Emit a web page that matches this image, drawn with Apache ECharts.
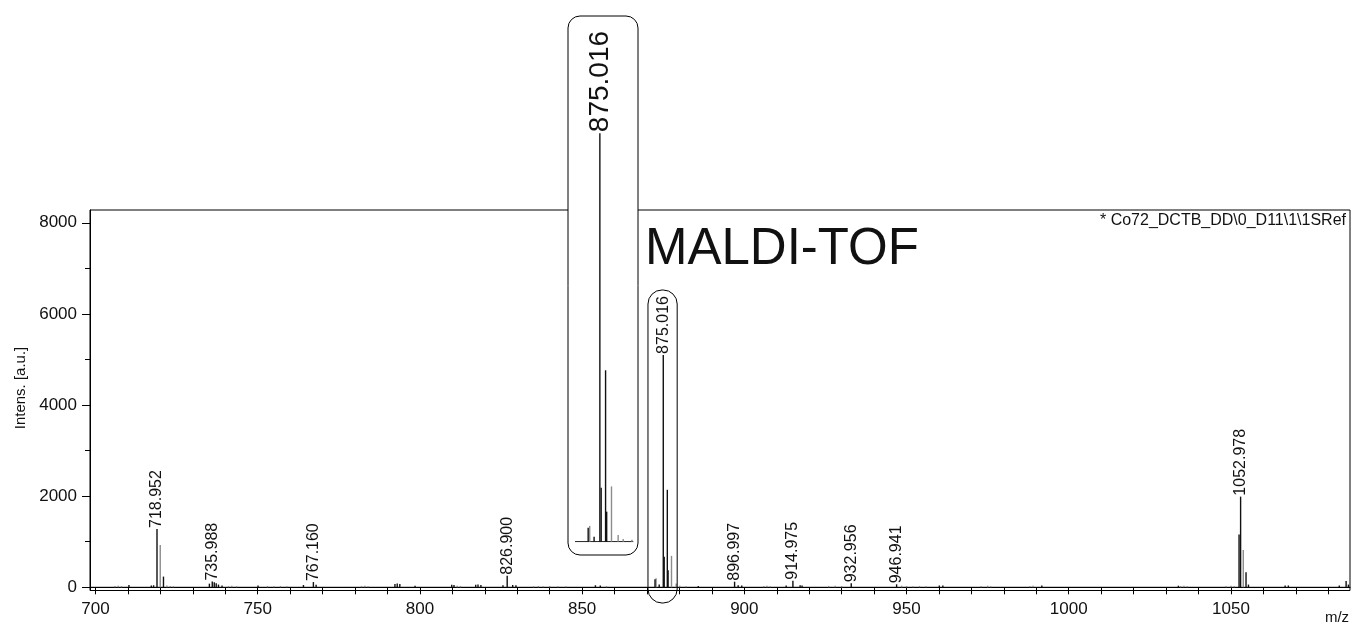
<!DOCTYPE html>
<html>
<head>
<meta charset="utf-8">
<script src="https://cdn.jsdelivr.net/npm/echarts@6/dist/echarts.min.js"></script>
<style>
  html, body { margin: 0; padding: 0; background: #fff; }
  #chart { width: 1354px; height: 625px; }
</style>
</head>
<body>
<div id="chart"></div>
<script>
// Annotated peaks: m/z and intensity [a.u.]
const labeledMz        = [718.952, 735.988, 767.160, 826.900, 875.016, 896.997, 914.975, 932.956, 946.941, 1052.978];
const labeledIntensity = [1280,    125,     115,     255,     5100,    123,     145,     88,      66,      1990];

// Other resolved peaks (dark sticks)
const blackMz = [710.3, 717.2, 717.9, 720.95, 735.1, 736.6, 737.2, 737.9, 739.0, 750.1, 764.1, 768.0,
                 792.3, 793.0, 793.8, 798.5, 809.8, 810.5, 817.2, 817.9, 818.8, 825.6, 828.6, 829.6,
                 854.1, 855.6, 872.47, 873.76, 875.3, 876.26, 876.5, 885.8, 898.1, 899.2, 912.9, 917.2,
                 917.8, 960.1, 961.2, 991.7, 1033.8, 1052.5, 1054.65, 1055.4, 1066.7, 1067.7, 1083.4,
                 1085.5, 1086.2];
const blackIntensity = [50, 40, 45, 235, 80, 110, 90, 60, 40, 40, 50, 55,
                        70, 85, 70, 35, 55, 50, 55, 60, 50, 45, 50, 45,
                        45, 40, 175, 62, 673, 2140, 375, 30, 45, 40, 40, 45,
                        40, 40, 40, 40, 35, 1160, 330, 60, 40, 40, 40,
                        140, 60];

// Isotope shoulders and low-level signal (grey sticks)
const grayMz = [706.0, 707.0, 708.0, 719.95, 722.0, 723.0, 724.0, 741.0, 742.0, 743.5, 753.0, 755.0,
                757.0, 759.0, 782.0, 783.0, 784.0, 811.5, 812.5, 835.0, 836.5, 838.0, 840.0, 842.5,
                845.0, 857.5, 872.8, 877.55, 879.0, 880.1, 882.0, 906.0, 907.0, 908.0, 926.0, 928.0,
                930.0, 948.5, 950.0, 952.0, 954.0, 956.0, 973.0, 975.0, 976.0, 988.0, 989.0, 1034.5,
                1035.5, 1036.5, 1048.5, 1050.0, 1051.0, 1053.8];
const grayIntensity = [30, 35, 25, 930, 40, 30, 25, 30, 35, 25, 30, 25,
                       30, 25, 30, 35, 25, 35, 30, 25, 30, 25, 30, 25,
                       25, 30, 197, 690, 84, 34, 25, 30, 35, 25, 30, 35,
                       30, 35, 30, 25, 30, 25, 30, 35, 25, 30, 35, 30,
                       35, 25, 30, 35, 30, 818];

// Axes
const mzRange = [698.3, 1086.7];
const intensityRange = [-70, 8280];
const xLabelValues = [700, 750, 800, 850, 900, 950, 1000, 1050];
const xTickStart = 700, xTickEnd = 1080, xTickStep = 10;
const yLabelValues = [0, 2000, 4000, 6000, 8000];
const yMinorTickValues = [1000, 3000, 5000, 7000];

// Magnified view of the molecular-ion cluster
const zoomMzRange = [869.6, 882.3];
const zoomIntensityMax = 5514;

// Frame annotation around the cluster in the full spectrum
const clusterBoxMz = [870.3, 879.3];

const FONT = "'Liberation Sans', Arial, Helvetica, sans-serif";
const TEXT = '#111';

const xTickValues = [];
for (let v = xTickStart; v <= xTickEnd; v += xTickStep) xTickValues.push(v);

function pairs(mz, inten, range) {
  const out = [];
  mz.forEach((m, i) => {
    if (!range || (m >= range[0] && m <= range[1])) out.push([m, inten[i]]);
  });
  return out;
}

function stickSeries(name, data, axisIndex, color, width, labelFont, z) {
  return {
    name: name,
    type: 'custom',
    xAxisIndex: axisIndex,
    yAxisIndex: axisIndex === 0 ? 0 : 2,
    data: data,
    encode: { x: 0, y: 1 },
    clip: false,
    z: z,
    silent: true,
    renderItem: function (params, api) {
      const m = api.value(0), h = api.value(1);
      const base = api.coord([m, 0]);
      const top = api.coord([m, h]);
      const children = [{
        type: 'line',
        shape: { x1: base[0], y1: base[1], x2: top[0], y2: top[1] },
        style: { stroke: color, lineWidth: width }
      }];
      if (labelFont) {
        children.push({
          type: 'text',
          x: top[0],
          y: top[1] - 1,
          rotation: Math.PI / 2,
          style: {
            text: m.toFixed(3),
            align: 'left',
            verticalAlign: 'middle',
            fill: TEXT,
            font: labelFont + 'px ' + FONT
          }
        });
      }
      return { type: 'group', children: children };
    }
  };
}

const chart = echarts.init(document.getElementById('chart'), null, { renderer: 'canvas' });

const option = {
  animation: false,
  backgroundColor: '#fff',
  textStyle: { fontFamily: FONT },
  grid: [
    {
      left: 90, right: 4, top: 210, bottom: 34.5,
      show: true, borderColor: '#000', borderWidth: 1, backgroundColor: 'transparent',
      containLabel: false, outerBoundsMode: 'none'
    },
    {
      left: 575, top: 100, width: 58.3, height: 441.7,
      show: false, containLabel: false, outerBoundsMode: 'none'
    }
  ],
  xAxis: [
    {
      type: 'value', gridIndex: 0, min: mzRange[0], max: mzRange[1],
      axisLine: { show: true, lineStyle: { color: '#000', width: 1 } },
      axisTick: { show: true, inside: false, length: 7, customValues: xTickValues, lineStyle: { color: '#000', width: 1 } },
      axisLabel: { show: true, customValues: xLabelValues, margin: 10, color: TEXT, fontSize: 17, fontFamily: FONT,
                   formatter: v => String(v) },
      splitLine: { show: false }
    },
    {
      type: 'value', gridIndex: 1, min: zoomMzRange[0], max: zoomMzRange[1], show: false
    }
  ],
  yAxis: [
    {
      type: 'value', gridIndex: 0, position: 'left', min: intensityRange[0], max: intensityRange[1],
      axisLine: { show: true, lineStyle: { color: '#000', width: 1 } },
      axisTick: { show: true, inside: false, length: 8, customValues: yLabelValues, lineStyle: { color: '#000', width: 1 } },
      axisLabel: { show: true, customValues: yLabelValues, margin: 13, color: TEXT, fontSize: 17, fontFamily: FONT,
                   formatter: v => String(v) },
      splitLine: { show: false }
    },
    {
      type: 'value', gridIndex: 0, position: 'left', offset: 0, min: intensityRange[0], max: intensityRange[1],
      axisLine: { show: false },
      axisTick: { show: true, inside: false, length: 5, customValues: yMinorTickValues, lineStyle: { color: '#000', width: 1 } },
      axisLabel: { show: false },
      splitLine: { show: false }
    },
    {
      type: 'value', gridIndex: 1, min: 0, max: zoomIntensityMax, show: false
    }
  ],
  series: [
    // spectrum baselines
    {
      type: 'line', xAxisIndex: 0, yAxisIndex: 0, z: 3, silent: true, symbol: 'none',
      data: [[mzRange[0], 0], [mzRange[1], 0]],
      lineStyle: { color: '#000', width: 1 }
    },
    {
      type: 'line', xAxisIndex: 1, yAxisIndex: 2, z: 20, silent: true, symbol: 'none',
      data: [[zoomMzRange[0], 0], [zoomMzRange[1], 0]],
      lineStyle: { color: '#000', width: 1 }
    },
    // full spectrum
    stickSeries('grey', pairs(grayMz, grayIntensity), 0, '#8c8c8c', 1.4, null, 4),
    stickSeries('peaks', pairs(blackMz, blackIntensity), 0, '#111', 1.4, null, 5),
    stickSeries('annotated', pairs(labeledMz, labeledIntensity), 0, '#111', 1.4, 16, 6),
    // magnified cluster
    stickSeries('grey zoom', pairs(grayMz, grayIntensity, zoomMzRange), 1, '#8c8c8c', 1.4, null, 21),
    stickSeries('peaks zoom', pairs(blackMz, blackIntensity, zoomMzRange), 1, '#111', 1.4, null, 22),
    stickSeries('annotated zoom', pairs(labeledMz, labeledIntensity, zoomMzRange), 1, '#111', 1.4, 28, 23)
  ]
};

chart.setOption(option);

// Rounded frames and free text
const boxLeft = chart.convertToPixel({ xAxisIndex: 0 }, clusterBoxMz[0]);
const boxRight = chart.convertToPixel({ xAxisIndex: 0 }, clusterBoxMz[1]);

chart.setOption({
  graphic: [
    {
      type: 'rect', z: 10, silent: true,
      shape: { x: 568, y: 16, width: 70, height: 539, r: 12 },
      style: { fill: '#fff', stroke: '#000', lineWidth: 1 }
    },
    {
      type: 'rect', z: 15, silent: true,
      shape: { x: boxLeft, y: 290, width: boxRight - boxLeft, height: 313, r: 14 },
      style: { fill: 'none', stroke: '#000', lineWidth: 1 }
    },
    {
      type: 'text', z: 15, silent: true, x: 645, y: 250,
      style: { text: 'MALDI-TOF', font: '51px ' + FONT, fill: TEXT, align: 'left', verticalAlign: 'middle' }
    },
    {
      type: 'text', z: 15, silent: true, x: 1346, y: 221,
      style: { text: '* Co72_DCTB_DD\\0_D11\\1\\1SRef', font: '16px ' + FONT, fill: TEXT, align: 'right', verticalAlign: 'middle' }
    },
    {
      type: 'text', z: 15, silent: true, x: 1337, y: 618,
      style: { text: 'm/z', font: '15px ' + FONT, fill: TEXT, align: 'center', verticalAlign: 'middle' }
    },
    {
      type: 'text', z: 15, silent: true, x: 21, y: 388, rotation: Math.PI / 2,
      style: { text: 'Intens. [a.u.]', font: '15px ' + FONT, fill: TEXT, align: 'center', verticalAlign: 'middle' }
    }
  ]
});
</script>
</body>
</html>
